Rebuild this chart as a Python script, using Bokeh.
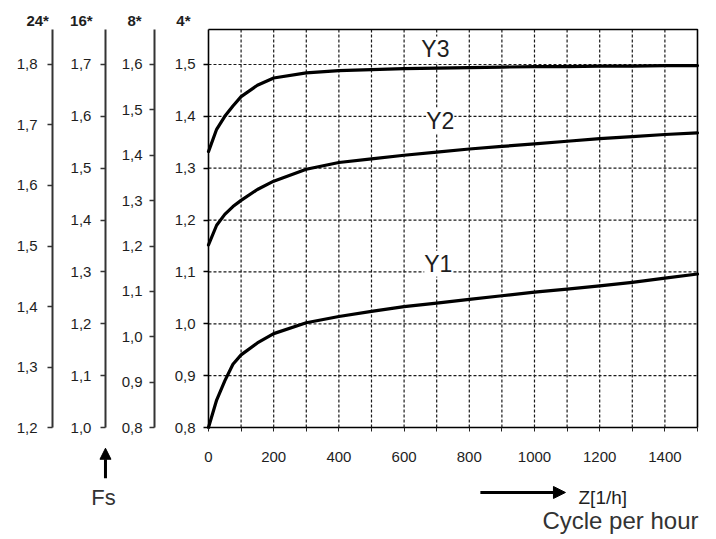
from bokeh.plotting import figure
from bokeh.models import Range1d, LinearAxis, FixedTicker, CustomJSTickFormatter, Label, Arrow, NormalHead
from bokeh.embed import file_html
from bokeh.resources import INLINE

# ---- data ----
z = [0, 25, 50, 75, 100, 150, 200, 300, 400, 500, 600, 700, 800, 900, 1000, 1100, 1200, 1300, 1400, 1500]
y1 = [0.800, 0.853, 0.890, 0.922, 0.940, 0.963, 0.981, 1.002, 1.014, 1.024, 1.033, 1.040, 1.047, 1.054, 1.061, 1.067, 1.073, 1.080, 1.088, 1.096]
y2 = [1.152, 1.190, 1.211, 1.226, 1.238, 1.259, 1.275, 1.298, 1.311, 1.318, 1.325, 1.331, 1.337, 1.342, 1.347, 1.352, 1.357, 1.361, 1.365, 1.368]
y3 = [1.332, 1.375, 1.400, 1.420, 1.438, 1.460, 1.474, 1.484, 1.488, 1.490, 1.492, 1.493, 1.494, 1.495, 1.496, 1.496, 1.497, 1.497, 1.498, 1.498]

x_ticks = [0, 100, 200, 300, 400, 500, 600, 700, 800, 900, 1000, 1100, 1200, 1300, 1400, 1500]
y4_ticks = [0.8, 0.9, 1.0, 1.1, 1.2, 1.3, 1.4, 1.5]
y8_ticks = [0.8, 0.9, 1.0, 1.1, 1.2, 1.3, 1.4, 1.5, 1.6]
y16_ticks = [1.0, 1.1, 1.2, 1.3, 1.4, 1.5, 1.6, 1.7]
y24_ticks = [1.2, 1.3, 1.4, 1.5, 1.6, 1.7, 1.8]
axis_headers = ["24*", "16*", "8*", "4*"]
curve_names = ["Y1", "Y2", "Y3"]

# ---- layout constants ----
X0, X1 = 0, 1500          # chart box, x
Y0, YTOP = 0.8, 1.5675    # chart box, y (4* scale)
XR = (-638.0, 1558.3)     # whole canvas in x units
YR = (0.58403, 1.62341)   # whole canvas in 4* units


def to8(v):
    return 0.8 + (v - 0.8) * 8 / 7


def to16(v):
    return v + 0.2


def to24(v):
    return 1.2 + (v - 0.8) * 6 / 7


FONT = "Liberation Sans"
TXT = "#1e1e1e"

p = figure(width=716, height=539, output_backend="svg", toolbar_location=None,
           x_range=Range1d(*XR), y_range=Range1d(*YR),
           x_axis_location=None, y_axis_location=None,
           min_border_left=0, min_border_right=0, min_border_top=0, min_border_bottom=0)
p.background_fill_color = "white"
p.border_fill_color = "white"
p.outline_line_color = None
p.title.visible = False
p.grid.visible = False

p.extra_y_ranges = {
    "y8": Range1d(to8(YR[0]), to8(YR[1])),
    "y16": Range1d(to16(YR[0]), to16(YR[1])),
    "y24": Range1d(to24(YR[0]), to24(YR[1])),
}


def make_yaxis(rng_name, ticks, loc, bounds, standoff, color, width):
    kw = {} if rng_name is None else {"y_range_name": rng_name}
    ax = LinearAxis(fixed_location=loc, bounds=bounds, **kw)
    ax.ticker = FixedTicker(ticks=ticks)
    ax.formatter = CustomJSTickFormatter(code="return tick.toFixed(1).replace('.', ',');")
    ax.major_tick_out = 5
    ax.major_tick_in = 0
    ax.minor_tick_line_color = None
    ax.major_label_standoff = standoff
    ax.axis_line_color = color
    ax.axis_line_width = width
    ax.major_tick_line_color = color
    ax.major_tick_line_width = 1.5
    ax.major_label_text_font = FONT
    ax.major_label_text_font_size = "15px"
    ax.major_label_text_color = TXT
    p.add_layout(ax, "left")
    return ax


make_yaxis(None, y4_ticks, 0, (Y0, YTOP), 8, "black", 1.6)
make_yaxis("y8", y8_ticks, -165.6, (to8(Y0), to8(YTOP)), 7, "#333333", 2)
make_yaxis("y16", y16_ticks, -316, (to16(Y0), to16(YTOP)), 9, "#333333", 2)
make_yaxis("y24", y24_ticks, -478.5, (to24(Y0), to24(YTOP)), 10, "#333333", 2)

xa = LinearAxis(fixed_location=Y0, bounds=(X0, X1))
xa.ticker = FixedTicker(ticks=x_ticks)
xa.formatter = CustomJSTickFormatter(code="return (tick % 200 == 0) ? tick.toFixed(0) : '';")
xa.major_tick_out = 4
xa.major_tick_in = 0
xa.minor_tick_line_color = None
xa.major_label_standoff = 20
xa.axis_line_color = "black"
xa.axis_line_width = 1.6
xa.major_tick_line_color = "#222222"
xa.major_label_text_font = FONT
xa.major_label_text_font_size = "15px"
xa.major_label_text_color = TXT
p.add_layout(xa, "below")

# dashed grid inside the chart box
gx = x_ticks[1:-1]
gy = y4_ticks[1:]
p.segment(x0=gx, y0=[Y0] * len(gx), x1=gx, y1=[YTOP] * len(gx),
          line_color="#1a1a1a", line_dash="3 2", line_width=1.2)
p.segment(x0=[X0] * len(gy), y0=gy, x1=[X1] * len(gy), y1=gy,
          line_color="#1a1a1a", line_dash="3 2", line_width=1.2)

# chart box (top and right edges)
p.line([X0, X1, X1], [YTOP, YTOP, Y0], line_color="black", line_width=1.6)

for ys in (y1, y2, y3):
    p.line(z, ys, line_color="black", line_width=3.2, line_join="round", line_cap="round")

# curve labels
for name, lx, ly in zip(curve_names, [705, 711, 696], [1.116, 1.392, 1.529]):
    p.add_layout(Label(x=lx, y=ly, text=name, text_align="center", text_baseline="middle",
                       text_font=FONT, text_font_size="23px", text_color=TXT,
                       background_fill_color="white", background_fill_alpha=1.0))

# axis headers
for h, hx in zip(axis_headers, [-524, -390, -227, -77]):
    p.add_layout(Label(x=hx, y=1.585, text=h, text_align="center", text_baseline="middle",
                       text_font=FONT, text_font_size="15px", text_font_style="bold", text_color=TXT))

# Fs
p.add_layout(Arrow(x_start=-316, y_start=0.702, x_end=-316, y_end=0.760, line_width=3, line_color="black",
                   end=NormalHead(size=11, fill_color="black", line_color="black")))
p.add_layout(Label(x=-322, y=0.665, text="Fs", text_align="center", text_baseline="middle",
                   text_font=FONT, text_font_size="22px", text_color="#333333"))

# Z arrow and labels
p.add_layout(Arrow(x_start=834, y_start=0.6747, x_end=1095, y_end=0.6747, line_width=3, line_color="black",
                   end=NormalHead(size=12, fill_color="black", line_color="black")))
p.add_layout(Label(x=1135, y=0.665, text="Z[1/h]", text_align="left", text_baseline="middle",
                   text_font=FONT, text_font_size="19px", text_color=TXT))
p.add_layout(Label(x=1503, y=0.6207, text="Cycle per hour", text_align="right", text_baseline="alphabetic",
                   text_font=FONT, text_font_size="24px", text_color="#333333"))

open("out.html", "w").write(file_html(p, INLINE))
